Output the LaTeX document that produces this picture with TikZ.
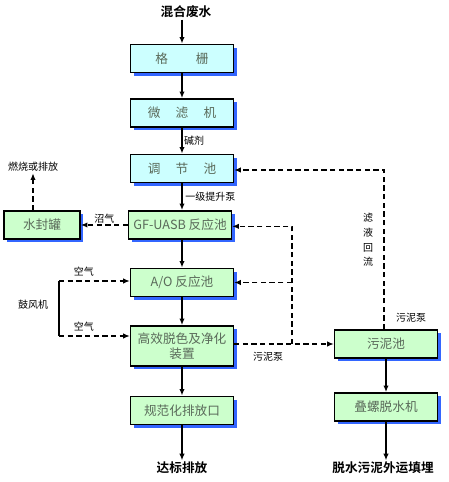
\documentclass[tikz,border=0pt]{standalone}
\usepackage{fontspec}
\setmainfont{Noto Sans CJK SC}[BoldFont=* Bold]
\usetikzlibrary{arrows.meta,shadows}

\definecolor{boxcyan}{HTML}{CCFFFF}
\definecolor{boxgreen}{HTML}{CCFFCC}
\definecolor{shadowblue}{HTML}{3366FF}
\definecolor{boxtext}{HTML}{5A6A5A}

\tikzset{
    unit/.style = {draw, line width=1.2pt, minimum width=77pt, minimum height=21pt,
                   text=boxtext, font=\fontsize{9.5}{11}\selectfont, align=center,
                   drop shadow={shadow xshift=2.4pt, shadow yshift=-2.4pt,
                                fill=shadowblue, opacity=1}},
    cyanunit/.style = {unit, fill=boxcyan},
    greenunit/.style = {unit, fill=boxgreen},
    label/.style = {font=\fontsize{7.5}{9}\selectfont, inner sep=1pt},
    title/.style = {font=\fontsize{9.5}{11}\selectfont\bfseries, inner sep=1pt},
    flow/.style = {-{Latex[length=5pt,width=4pt]}, line width=1pt},
    dashflow/.style = {flow, dash pattern=on 4pt off 2.5pt}
}

\begin{document}
\begin{tikzpicture}[x=0.75pt, y=0.75pt]
    \useasboundingbox (0,0) rectangle (449,482);

    % Linea principale
    \node[title] (inflow) at (186,470) {混合废水};
    \node[cyanunit] (grid) at (182,423.5) {格\hspace{2.2em}栅};
    \node[cyanunit] (filter) at (182,369) {微\hspace{1.2em}滤\hspace{1.2em}机};
    \node[cyanunit] (regul) at (182,313.5) {调\hspace{1.2em}节\hspace{1.2em}池};
    \node[greenunit] (uasb) at (180,257) {GF-UASB 反应池};
    \node[greenunit] (ao) at (182,199.5) {A/O 反应池};
    \node[greenunit, minimum height=30pt, inner sep=1pt] (decolor) at (182,136) {高效脱色及净化\\装置};
    \node[greenunit] (outlet) at (182,71.5) {规范化排放口};
    \node[title] (discharge) at (182,14) {达标排放};

    % Linea fanghi
    \node[greenunit] (sludge) at (386,138) {污泥池};
    \node[greenunit] (dewater) at (386,75) {叠螺脱水机};
    \node[title] (landfill) at (383,14) {脱水污泥外运填埋};

    % Biogas
    \node[greenunit, minimum width=57pt] (seal) at (42,257) {水封罐};
    \node[label] (burn) at (33,315) {燃烧或排放};

    % Frecce principali
    \draw[flow] (inflow.south -| grid) -- (grid);
    \draw[flow] (grid) -- (filter);
    \draw[flow] (filter) -- node[label, right] (alkali) {碱剂} (regul);
    \draw[flow] (regul) -- node[label, right, xshift=1pt] (pump) {一级提升泵} (regul |- uasb.north);
    \draw[flow] (uasb.south -| ao) -- (ao);
    \draw[flow] (ao) -- (decolor);
    \draw[flow] (decolor) -- (outlet);
    \draw[flow] (outlet) -- (discharge);
    \draw[flow] (sludge) -- (dewater);
    \draw[flow] (dewater) -- (dewater |- landfill.north);

    % Biogas al serbatoio
    \draw[dashflow] (uasb.west) -- node[label, above] (biogas) {沼气} (seal.east);
    \draw[dashflow] (seal.north -| burn) -- (burn.south);

    % Soffiante
    \node[label] (blower) at (33,177) {鼓风机};
    \coordinate (blowtop) at (59,201);
    \coordinate (blowbot) at (59,146);
    \draw[line width=1pt] (blowtop) -- (blowbot);
    \draw[dashflow] (blowtop) -- node[label, above=2pt, xshift=-8pt] (air1) {空气} (blowtop -| ao.west);
    \draw[dashflow] (blowbot) -- node[label, above=2pt, xshift=-8pt] (air2) {空气} (blowbot -| decolor.west);

    % Ricircolo fanghi
    \coordinate (split) at (292,138);
    \draw[dashflow] (decolor.east |- split) -- node[label, below=5pt, xshift=-12pt] (spump1) {污泥泵} (sludge.west);
    \draw[dashflow] (split) |- ([yshift=-1pt]uasb.east);
    \draw[dashflow] (split |- ao.east) -- (ao.east);

    % Ritorno filtrato
    \coordinate (back) at (384,312);
    \draw[dashflow] (sludge.north -| back) -- (back) -- (regul.east |- back);
    \node[label, align=center] (filtrate) at (368,242) {滤\\[2pt]液\\[2pt]回\\[2pt]流};
    \node[label] (spump2) at (411,164) {污泥泵};
\end{tikzpicture}
\end{document}
